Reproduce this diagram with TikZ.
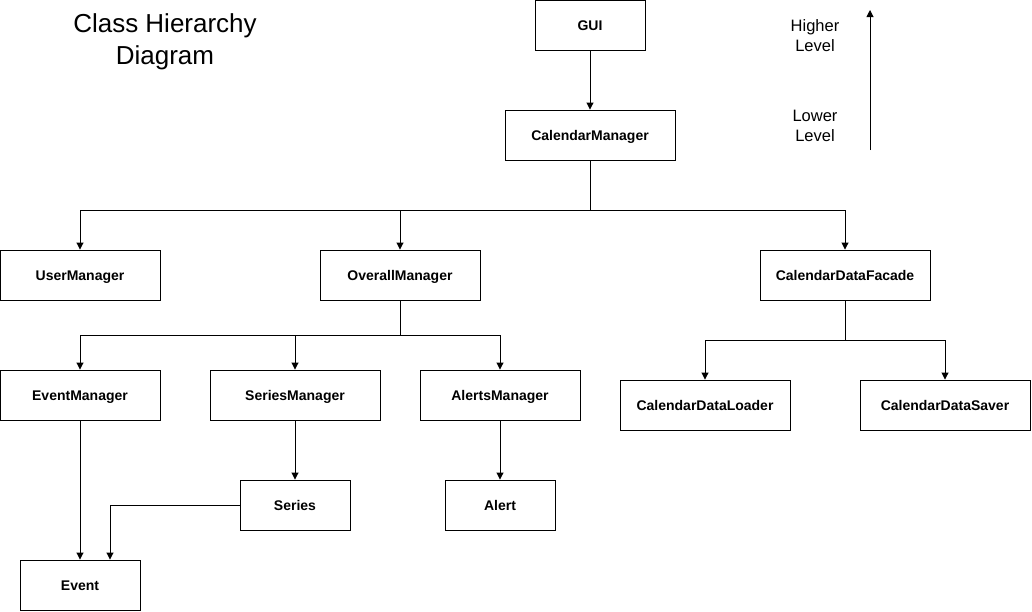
\documentclass[tikz,border=0pt]{standalone}
\usepackage{fontspec}
\setmainfont{Liberation Sans}
\usetikzlibrary{arrows.meta}
\begin{document}
\begin{tikzpicture}[x=1pt,y=-1pt,
  cls/.style={draw, line width=0.9pt, minimum height=50pt, font=\fontsize{14}{16}\selectfont\bfseries, inner sep=0pt, text depth=0pt, text height=10pt},
  conn/.style={line width=0.9pt, -{Triangle[length=7pt,width=7pt]}},
  lbl/.style={align=center, font=\fontsize{16.5}{20}\selectfont}]
\useasboundingbox (0,0) rectangle (1032,611);
\node[cls, minimum width=110pt] (gui) at (590,25) {GUI};
\node[cls, minimum width=170pt] (cm) at (590,135) {CalendarManager};
\node[cls, minimum width=160pt] (um) at (80,275) {UserManager};
\node[cls, minimum width=160pt] (om) at (400,275) {OverallManager};
\node[cls, minimum width=170pt] (cdf) at (845,275) {CalendarDataFacade};
\node[cls, minimum width=160pt] (em) at (80,395) {EventManager};
\node[cls, minimum width=170pt] (sm) at (295,395) {SeriesManager};
\node[cls, minimum width=160pt] (am) at (500,395) {AlertsManager};
\node[cls, minimum width=170pt] (cdl) at (705,405) {CalendarDataLoader};
\node[cls, minimum width=170pt] (cds) at (945,405) {CalendarDataSaver};
\node[cls, minimum width=110pt] (ser) at (295,505) {Series};
\node[cls, minimum width=110pt] (al) at (500,505) {Alert};
\node[cls, minimum width=120pt] (ev) at (80,585) {Event};

\node[align=center, font=\fontsize{26}{32}\selectfont] (title) at (165,42) {Class Hierarchy\\Diagram};
\node[lbl] (hi) at (815,36) {Higher\\Level};
\node[lbl] (lo) at (815,126) {Lower\\Level};
\coordinate (abot) at (870,150);
\coordinate (atop) at (870,10);
\draw[conn] (abot) -- (atop);

\draw[conn] (gui) -- (cm);
\draw[conn] (cm.south) |- (80,210) -- (um.north);
\draw[conn] (cm.south) |- (400,210) -- (om.north);
\draw[conn] (cm.south) |- (845,210) -- (cdf.north);
\draw[conn] (om.south) |- (80,335) -- (em.north);
\draw[conn] (om.south) |- (295,335) -- (sm.north);
\draw[conn] (om.south) |- (500,335) -- (am.north);
\draw[conn] (cdf.south) |- (705,340) -- (cdl.north);
\draw[conn] (cdf.south) |- (945,340) -- (cds.north);
\draw[conn] (em) -- (ev);
\draw[conn] (sm) -- (ser);
\draw[conn] (am) -- (al);
\draw[conn] (ser.west) -| ([xshift=30pt]ev.north);
\end{tikzpicture}
\end{document}
